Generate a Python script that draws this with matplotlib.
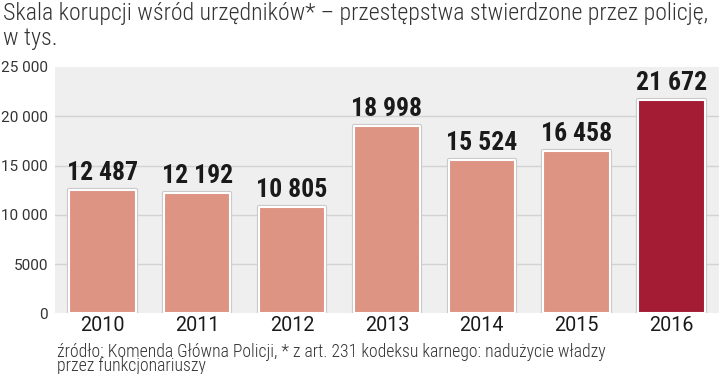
import matplotlib
matplotlib.use("Agg")
import matplotlib.pyplot as plt
import matplotlib.patheffects as pe
from matplotlib.patches import FancyBboxPatch

years = ["2010", "2011", "2012", "2013", "2014", "2015", "2016"]
values = [12487, 12192, 10805, 18998, 15524, 16458, 21672]
labels = ["12 487", "12 192", "10 805", "18 998", "15 524", "16 458", "21 672"]
yticks = [0, 5000, 10000, 15000, 20000, 25000]
ytick_labels = ["0", "5000", "10 000", "15 000", "20 000", "25 000"]

NARROW = ["Roboto Condensed", "DejaVu Sans"]
REG = ["Roboto", "DejaVu Sans"]
salmon = "#de9483"
dark = "#a31c33"

fig = plt.figure(figsize=(7.2, 3.74), dpi=100)
fig.patch.set_facecolor("white")
ax = fig.add_axes([0.0764, 0.162, 0.922, 0.659])
ax.set_xlim(-0.5, 6.5)
ax.set_ylim(0, 25000)
ax.patch.set_visible(False)

# rounded grey background
bg = FancyBboxPatch((0, -0.01), 1, 1.02, boxstyle="round,pad=0,rounding_size=0.03",
                    transform=ax.transAxes, facecolor="#efefef", edgecolor="none",
                    zorder=0, mutation_aspect=0.659 * 3.74 / (0.922 * 7.2))
ax.add_patch(bg)

for y in yticks[1:-1]:
    ax.axhline(y, color="#d2d2d2", lw=1, zorder=1)

colors = [salmon] * 6 + [dark]
bars = ax.bar(range(len(years)), values, width=0.7, color=colors, edgecolor="white",
              linewidth=1.5, zorder=2)
for b in bars:
    b.set_path_effects([pe.Stroke(linewidth=3, foreground="#c8c8c8"), pe.Normal()])
    b.set_joinstyle("round")

for i, v in enumerate(values):
    ax.text(i, v + 500, labels[i], ha="center", va="bottom", fontsize=18.5,
            fontweight="bold", family=NARROW, color="#1a1a1a", zorder=3)

for s in ax.spines.values():
    s.set_visible(False)
ax.set_xticks(range(len(years)))
ax.set_xticklabels(years, fontsize=14.2, family=REG, color="#1a1a1a")
ax.set_yticks(yticks)
ax.set_yticklabels(ytick_labels, fontsize=11, family=REG, color="#333333")
ax.tick_params(axis="both", length=0)
ax.tick_params(axis="x", pad=2)
ax.tick_params(axis="y", pad=5)

fig.text(0.004, 0.995, "Skala korupcji wśród urzędników* – przestępstwa stwierdzone przez policję,\nw tys.",
         ha="left", va="top", fontsize=17.2, fontweight="light", family=NARROW,
         color="#333333", linespacing=1.12)
fig.text(0.079, 0.084, "źródło: Komenda Główna Policji, * z art. 231 kodeksu karnego: nadużycie władzy\nprzez funkcjonariuszy",
         ha="left", va="top", fontsize=12.8, fontweight="light", family=NARROW,
         color="#333333", linespacing=0.76)

fig.savefig("out.png", dpi=100, facecolor="white")
